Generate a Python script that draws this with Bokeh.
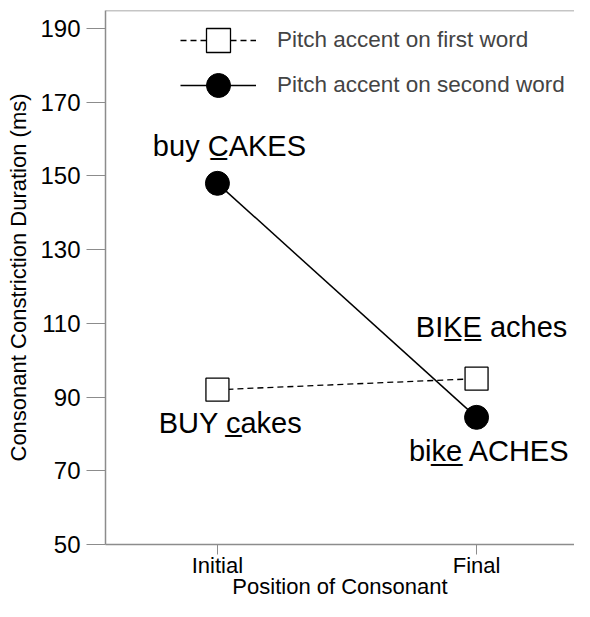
from bokeh.plotting import figure
from bokeh.models import (ColumnDataSource, Legend, LegendItem, Span,
                          FixedTicker, Range1d)
from bokeh.core.properties import value
from bokeh.embed import file_html
from bokeh.resources import INLINE

# ---- data ----
positions = ["Initial", "Final"]
pos_x = [0, 1]
first_word = [92, 95]        # pitch accent on first word (squares)
second_word = [148, 84.5]    # pitch accent on second word (circles)
y_ticks = [50, 70, 90, 110, 130, 150, 170, 190]
series_names = ["Pitch accent on first word", "Pitch accent on second word"]

# annotation labels (U+0332 combining low line underlines the consonant)
ann_text = ["buy C\u0332AKES", "BUY c\u0332akes", "BIK\u0332E\u0332 aches", "bik\u0332e\u0332 ACHES"]
ann_x = [pos_x[0], pos_x[0], pos_x[1], pos_x[1]]
ann_y = [second_word[0], first_word[0], first_word[1], second_word[1]]
ann_dx = [12, 13, 15, 13]
ann_dy = [-37, 33, -52, 34]

FONT = "Liberation Sans"
GRAY = "#8c8c8c"
Y_MIN, Y_MAX = 50, 194.9

p = figure(width=574, height=601, output_backend="svg", toolbar_location=None,
           x_range=Range1d(-0.432, 1.378), y_range=Range1d(Y_MIN, Y_MAX),
           min_border_left=105, min_border_right=0, min_border_top=10,
           min_border_bottom=54)
p.outline_line_color = None
p.grid.visible = False
p.background_fill_color = "white"

# axes
p.yaxis.ticker = FixedTicker(ticks=y_ticks)
p.yaxis.axis_label = "Consonant Constriction Duration (ms)"
p.xaxis.ticker = FixedTicker(ticks=pos_x)
p.xaxis.major_label_overrides = {x: lab for x, lab in zip(pos_x, positions)}
p.xaxis.axis_label = "Position of Consonant"
for ax in (p.xaxis, p.yaxis):
    ax.axis_line_color = GRAY
    ax.axis_line_width = 1.5
    ax.major_tick_line_color = GRAY
    ax.minor_tick_line_color = None
    ax.major_tick_in = 0
    ax.major_label_text_font = FONT
    ax.major_label_text_color = "black"
    ax.axis_label_text_font = FONT
    ax.axis_label_text_font_style = "normal"
    ax.axis_label_text_color = "black"
    ax.axis_label_text_font_size = "22px"
p.yaxis.major_tick_out = 19
p.yaxis.major_label_text_font_size = "24px"
p.yaxis.major_label_standoff = 6
p.yaxis.axis_label_standoff = 6
p.xaxis.major_tick_out = 10
p.xaxis.major_label_text_font_size = "22px"
p.xaxis.major_label_standoff = -2
p.xaxis.axis_label_standoff = -7

top = Span(location=Y_MAX, dimension="width", line_color=GRAY, line_width=1.5)
p.add_layout(top)

# series
l1 = p.line(pos_x, first_word, line_color="black", line_width=1.3, line_dash="6 4")
s1 = p.scatter(pos_x, first_word, marker="square", size=23, fill_color="white",
               line_color="black", line_width=1.3)
l2 = p.line(pos_x, second_word, line_color="black", line_width=1.5)
s2 = p.scatter(pos_x, second_word, marker="circle", size=24, fill_color="black",
               line_color="black")

# annotations
src = ColumnDataSource(dict(x=ann_x, y=ann_y, text=ann_text, dx=ann_dx, dy=ann_dy))
p.text(x="x", y="y", text="text", x_offset="dx", y_offset="dy", source=src,
       text_font=value(FONT), text_font_size="29px", text_align="center",
       text_baseline="middle", text_color="black")

# two single-item legends (so the legend markers can be full size)
for name, rends, loc in [(series_names[0], [l1, s1], (75, 474)),
                         (series_names[1], [l2, s2], (75, 429))]:
    lg = Legend(items=[LegendItem(label=name, renderers=rends)], location=loc)
    lg.border_line_color = None
    lg.background_fill_alpha = 0
    lg.padding = 0
    lg.margin = 0
    lg.glyph_width = 76
    lg.glyph_height = 60
    lg.label_standoff = 21
    lg.label_text_font = FONT
    lg.label_text_font_size = "22.5px"
    p.add_layout(lg)

open("out.html", "w").write(file_html(p, INLINE))
